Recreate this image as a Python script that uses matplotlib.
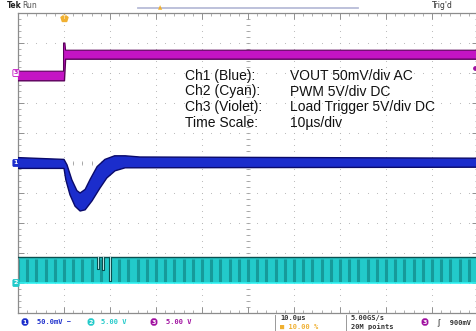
import numpy as np
import matplotlib.pyplot as plt

# scope settings
t_left, t_right = -10, 90          # us, trigger at 0 (10 % position)
n_hdiv, n_vdiv = 10, 10

# Ch1 VOUT, AC coupled, 50 mV/div, centred (envelope of the noisy trace)
ch1_upper_t = [-10, 0, 0.65, 1.7, 2.8, 3.5, 4.6, 5.7, 7.2, 8.9, 11.0, 13.3, 16.5, 90]
ch1_upper_mv = [9, 6, -3, -28, -46, -50, -44, -27, -6, 6, 12, 12, 10, 8]
ch1_lower_t = [-10, 0, 0.4, 1.3, 2.4, 3.5, 4.6, 6.1, 7.8, 9.3, 11.1, 13.3, 90]
ch1_lower_mv = [-9, -9, -28, -53, -72, -80, -78, -63, -42, -25, -13, -8, -7]
ch1_scale, ch1_offset = 50.0, 0.0

# Ch3 load trigger, 5 V/div, ground at +3 div
ch3_upper_t = [-10, -0.1, -0.1, 0.2, 0.35, 90]
ch3_upper_v = [0.3, 0.3, 5.0, 5.0, 3.8, 3.8]
ch3_lower_t = [-10, 0.1, 0.35, 90]
ch3_lower_v = [-1.3, -1.3, 2.3, 2.3]
ch3_scale, ch3_offset = 5.0, 3.0
trig_level_v = 0.9

# Ch2 PWM, 5 V/div, ground at -4 div
pwm_low_v, pwm_high_v = 0.0, 4.3
pwm_period_us = 2.0
notch_t = [7.4, 8.5, 10.0]
notch_depth_v = [2.0, 2.2, 3.9]
ch2_scale, ch2_offset = 5.0, -4.0


def to_div(vals, scale, offset):
    return np.asarray(vals, dtype=float) / scale + offset


W, H = 477, 331
fig = plt.figure(figsize=(W / 100, H / 100), dpi=100)
fig.patch.set_facecolor('white')
ax = fig.add_axes([18 / W, (H - 313) / H, 460 / W, 300 / H])
ax.set_xlim(t_left, t_right)
ax.set_ylim(-n_vdiv / 2, n_vdiv / 2)
ax.set_facecolor('white')

# graticule
hdiv = (t_right - t_left) / n_hdiv
grid_col = '#b4b4b4'
for gx in np.arange(t_left + hdiv, t_right, hdiv):
    yy = np.arange(-5, 5.01, 0.2)
    ax.scatter(np.full_like(yy, gx), yy, s=0.6, color=grid_col, lw=0, zorder=1)
for gy in np.arange(-4, 5, 1):
    xx = np.arange(t_left, t_right + 0.01, hdiv / 5)
    ax.scatter(xx, np.full_like(xx, gy), s=0.6, color=grid_col, lw=0, zorder=1)
xc = (t_left + t_right) / 2
yy = np.arange(-5, 5.01, 0.2)
ax.scatter(np.full_like(yy, xc), yy, marker='_', s=8, lw=0.6, color='#a0a0a0', zorder=1)
xx = np.arange(t_left, t_right + 0.01, hdiv / 5)
ax.scatter(xx, np.zeros_like(xx), marker='|', s=8, lw=0.6, color='#a0a0a0', zorder=1)

ax.set_xticks(np.arange(t_left, t_right + 0.1, hdiv))
ax.set_xticks(np.arange(t_left, t_right + 0.1, hdiv / 5), minor=True)
ax.set_yticks(np.arange(-5, 6, 1))
ax.set_yticks(np.arange(-5, 5.01, 0.2), minor=True)
ax.tick_params(which='both', direction='in', top=True, right=True,
               labelbottom=False, labelleft=False, color='#909090')
ax.tick_params(which='major', length=4, width=0.7)
ax.tick_params(which='minor', length=2, width=0.5)
for s in ax.spines.values():
    s.set_color('#8c8c8c')
    s.set_linewidth(0.9)

# Ch2 PWM band with switching stripes
lo2, hi2 = to_div([pwm_low_v, pwm_high_v], ch2_scale, ch2_offset)
ax.fill_between([t_left, t_right], lo2, hi2, color='#22caca', lw=0, zorder=2)
edges = np.arange(t_left, t_right, pwm_period_us)
ax.vlines(edges, lo2 + 0.05, hi2 - 0.05, color='#138f8f', lw=2.2, alpha=0.8, zorder=2)
ax.plot([t_left, t_right], [hi2, hi2], color='#0b4f4f', lw=1.0, zorder=3)
ax.plot([t_left, t_right], [lo2, lo2], color='#30f0f0', lw=1.2, zorder=3)
for nt, nd in zip(notch_t, notch_depth_v):
    bot = hi2 - nd / ch2_scale
    ax.fill_between([nt - 0.3, nt + 0.3], bot, hi2, color='#c8f4f4', lw=0, zorder=3)
    ax.plot([nt - 0.3, nt - 0.3, nt + 0.3, nt + 0.3], [hi2, bot, bot, hi2],
            color='#0b4f4f', lw=0.8, zorder=3)

# Ch3 load trigger
px = np.concatenate([ch3_upper_t, ch3_lower_t[::-1]])
py = np.concatenate([to_div(ch3_upper_v, ch3_scale, ch3_offset),
                     to_div(ch3_lower_v[::-1], ch3_scale, ch3_offset)])
ax.fill(px, py, color='#c414c4', lw=0, zorder=4)
ax.plot(ch3_upper_t, to_div(ch3_upper_v, ch3_scale, ch3_offset), color='#5a005a', lw=0.8, zorder=4)
ax.plot(ch3_lower_t, to_div(ch3_lower_v, ch3_scale, ch3_offset), color='#5a005a', lw=1.0, zorder=4)

# Ch1 VOUT
px = np.concatenate([ch1_upper_t, ch1_lower_t[::-1]])
py = np.concatenate([to_div(ch1_upper_mv, ch1_scale, ch1_offset),
                     to_div(ch1_lower_mv[::-1], ch1_scale, ch1_offset)])
ax.fill(px, py, color='#1b2dcc', lw=0, zorder=5)
ax.plot(ch1_upper_t, to_div(ch1_upper_mv, ch1_scale, ch1_offset), color='#0a0a6a', lw=1.0, zorder=5)
ax.plot(ch1_lower_t, to_div(ch1_lower_mv, ch1_scale, ch1_offset), color='#0a0a6a', lw=1.0, zorder=5)

# trigger level marker (right edge)
ax.scatter([t_right - 0.7], to_div([trig_level_v], ch3_scale, ch3_offset),
           s=6, color='#a010a0', zorder=6, clip_on=False)
# trigger position marker (top)
ax.scatter([0], [4.85], marker='p', s=28, color='#f0b030', zorder=6, clip_on=False)
ax.text(0, 4.85, 'T', fontsize=3.5, color='white', ha='center', va='center', zorder=7)


def fx(x):
    return x / W


def fy(y):
    return 1 - y / H


# channel ground markers on the left
mk = dict(fontsize=4.5, ha='center', va='center', fontweight='bold')
for lbl, lev, fc, ec, tc in [('3', ch3_offset, 'white', '#c414c4', '#c414c4'),
                             ('1', ch1_offset, '#1b2dcc', '#1b2dcc', 'white'),
                             ('2', ch2_offset, '#22caca', '#22caca', 'white')]:
    yp = (H - 313 + (lev + 5) * 30) / H
    fig.text(fx(16), yp, lbl, color=tc,
             bbox=dict(boxstyle='round,pad=0.15', fc=fc, ec=ec, lw=0.6), **mk)

# annotation box
ann_font = 'Liberation Sans'
rows = [('Ch1 (Blue):', 'VOUT 50mV/div AC'),
        ('Ch2 (Cyan):', 'PWM 5V/div DC'),
        ('Ch3 (Violet):', 'Load Trigger 5V/div DC'),
        ('Time Scale:', '10\u00b5s/div')]
for i, (a, b) in enumerate(rows):
    y = 76 + i * 15.5
    fig.text(fx(185), fy(y), a, family=ann_font, fontsize=10, va='center', color='#111111')
    fig.text(fx(290), fy(y), b, family=ann_font, fontsize=10, va='center', color='#111111')

# top status line
fig.text(fx(7), fy(5), 'Tek', fontsize=5.5, fontweight='bold', va='center', color='#222222')
fig.text(fx(22), fy(5), 'Run', fontsize=5.5, va='center', color='#555555')
fig.text(fx(432), fy(5), "Trig'd", fontsize=5.5, va='center', color='#333333')
fig.add_artist(plt.Line2D([fx(138), fx(358)], [fy(8), fy(8)], color='#b8bcd8', lw=1.3))
fig.text(fx(160), fy(8), '\u25b2', fontsize=4, color='#f0b030', ha='center', va='center')

# bottom status bar
sb = dict(fontsize=5, va='center', family=['DejaVu Sans Mono', 'DejaVu Sans'], fontweight='bold')
pill = dict(fontsize=4.5, ha='center', va='center', color='white', fontweight='bold')
pbox = dict(boxstyle='round,pad=0.2,rounding_size=0.5', ec='none')
fig.text(fx(25), fy(322), '1', bbox=dict(fc='#1b2dcc', **pbox), **pill)
fig.text(fx(37), fy(322), '50.0mV ~', color='#1b2dcc', **sb)
fig.text(fx(91), fy(322), '2', bbox=dict(fc='#22caca', **pbox), **pill)
fig.text(fx(101), fy(322), '5.00 V', color='#22caca', **sb)
fig.text(fx(154), fy(322), '3', bbox=dict(fc='#a010a0', **pbox), **pill)
fig.text(fx(166), fy(322), '5.00 V', color='#a010a0', **sb)
fig.text(fx(280), fy(318), '10.0\u00b5s', color='#333333', **sb)
fig.text(fx(280), fy(327), '\u25a0 10.00 %', color='#f0b030', **sb)
fig.text(fx(351), fy(318), '5.00GS/s', color='#333333', **sb)
fig.text(fx(351), fy(327), '20M points', color='#333333', **sb)
fig.text(fx(425), fy(322), '3', bbox=dict(fc='#a010a0', **pbox), **pill)
fig.text(fx(437), fy(322), '\u222b  900mV', color='#333333', **sb)
for xb in [275, 346]:
    fig.add_artist(plt.Line2D([fx(xb), fx(xb)], [fy(315), fy(330)], color='#999999', lw=0.7))

fig.savefig('out.png', dpi=100)
